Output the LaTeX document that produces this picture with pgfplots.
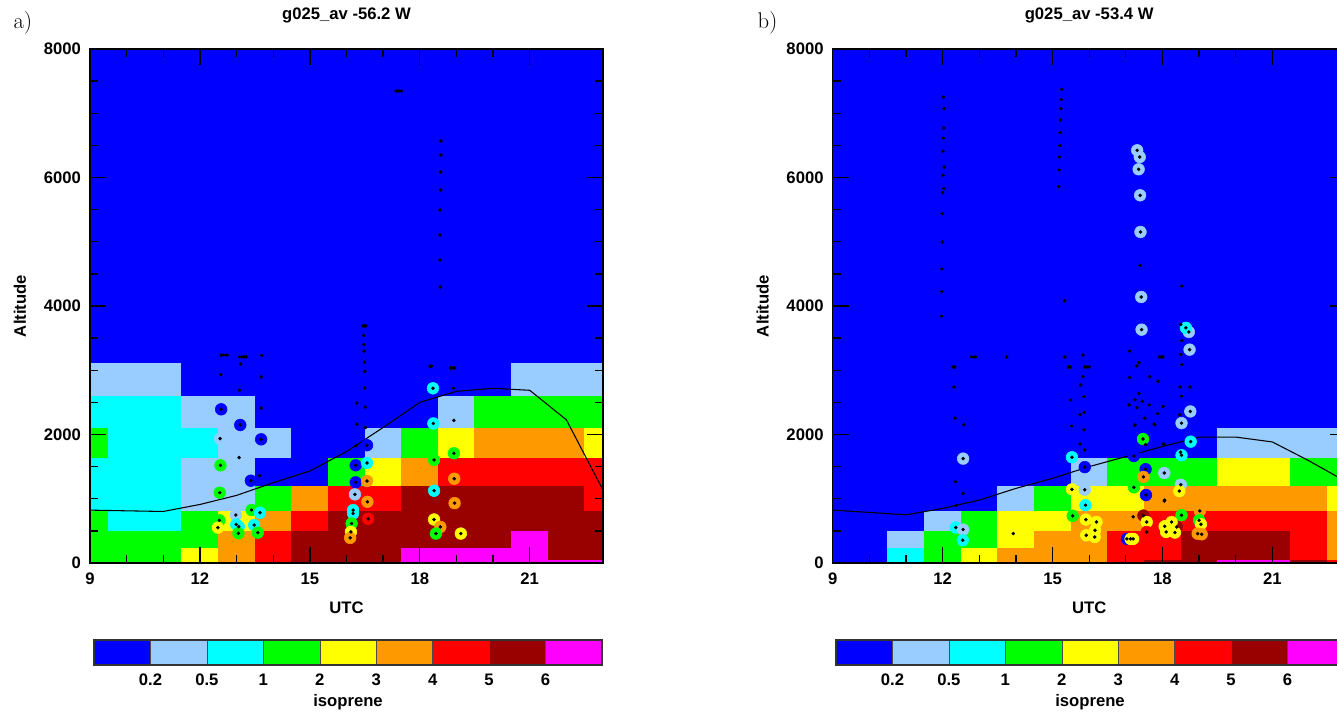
\documentclass[border=0pt]{standalone}
\usepackage{fontspec}
\usepackage{pgfplots}
\usepackage{pgfplotstable}
\pgfplotsset{compat=1.18}
\newfontfamily\hv{Liberation Sans}

\definecolor{c0}{RGB}{0,0,255}
\definecolor{c1}{RGB}{153,204,255}
\definecolor{c2}{RGB}{0,255,255}
\definecolor{c3}{RGB}{0,255,0}
\definecolor{c4}{RGB}{255,255,0}
\definecolor{c5}{RGB}{255,153,0}
\definecolor{c6}{RGB}{255,0,0}
\definecolor{c7}{RGB}{153,0,0}
\definecolor{c8}{RGB}{255,0,255}

\newcommand{\bfsz}{\hv\bfseries\fontsize{12.5}{14}\selectfont}

\pgfplotsset{
 colormap={iso}{rgb255=(0,0,255) rgb255=(153,204,255) rgb255=(0,255,255) rgb255=(0,255,0) rgb255=(255,255,0) rgb255=(255,153,0) rgb255=(255,0,0) rgb255=(153,0,0) rgb255=(255,0,255)},
 panel/.style={width=384.75pt, height=385.5pt, scale only axis,
  xmin=9, xmax=23, ymin=0, ymax=8000,
  xtick={9,12,...,21}, minor x tick num=2,
  ytick={0,2000,...,8000}, minor y tick num=3,
  point meta min=0, point meta max=8, colormap name=iso,
  tick align=inside, major tick length=12pt, minor tick length=6pt,
  every tick/.style={black, line width=1pt},
  axis line style={line width=1pt},
  ticklabel style={font=\bfsz},
  xticklabel style={yshift=-4pt},
  yticklabel style={xshift=-3.3pt},
  /pgf/number format/assume math mode=true,
  /pgf/number format/1000 sep={},
  xlabel={UTC}, ylabel={Altitude},
  label style={font=\bfsz},
  xlabel style={at={(axis description cs:0.5,-0.0875)}, anchor=center},
  ylabel style={at={(axis description cs:-0.1365,0.5)}, anchor=center},
  title style={font=\bfsz, at={(axis description cs:0.5,1.066)}, anchor=center, yshift=-6pt},
  axis on top},
 cbar/.style={width=381pt, height=18.75pt, scale only axis,
  xmin=0, xmax=9, ymin=0, ymax=1,
  xtick={1,...,8}, xticklabels={0.2,0.5,1,2,3,4,5,6},
  ytick=\empty, major tick length=0pt,
  axis line style={line width=0.8pt, draw=black!80},
  ticklabel style={font=\bfsz},
  xticklabel style={yshift=-3.3pt},
  /pgf/number format/assume math mode=true,
  xlabel={isoprene}, label style={font=\bfsz},
  xlabel style={at={(axis description cs:0.5,-1.5)}, anchor=center},
  axis on top},
 cell/.style={surf, shader=flat corner, mesh/rows=11, mesh/cols=16, point meta=explicit},
 circ/.style={scatter, only marks, mark=*, mark size=4.4pt, point meta=explicit,
  scatter/use mapped color={draw=mapped color, fill=mapped color}},
 dot/.style={only marks, mark=*, mark size=1.1pt, black},
}

\pgfplotstableread{
x y c
12.58 2392 0
13.10 2148 0
13.67 1925 0
12.55 1935 1
12.56 1520 3
13.39 1281 0
12.54 1095 3
13.41 825 3
13.64 783 2
12.53 664 3
12.49 550 4
12.98 747 1
12.99 600 2
13.06 565 2
13.05 462 3
13.48 591 2
13.58 472 3
16.25 1521 0
16.56 1557 2
16.25 1255 0
16.56 1276 5
16.23 1068 1
16.57 953 5
16.18 823 2
16.18 771 2
16.59 688 6
16.14 615 3
16.12 484 4
16.10 391 5
16.56 1833 0
18.36 2719 2
18.37 2172 2
18.39 1604 3
18.39 1125 2
18.39 677 4
18.56 562 5
18.44 458 3
18.93 1708 3
18.94 1312 5
18.95 932 5
19.12 458 4
}\circA

\pgfplotstableread{
x y
12.58 3235
12.64 3235
12.70 3235
12.75 3235
13.08 3208
13.14 3208
13.20 3208
13.26 3208
13.69 3229
13.11 3099
12.57 2932
13.67 2896
13.08 2688
13.67 2411
13.07 1641
13.63 1359
16.45 3690
16.49 3690
16.53 3690
16.47 3540
16.47 3400
16.48 3297
16.49 3125
16.50 2984
16.50 2724
16.28 2490
16.51 2427
16.28 2161
16.52 2109
16.26 1823
17.35 7346
17.40 7346
17.45 7346
17.50 7346
18.58 6568
18.58 6350
18.57 6086
18.57 5805
18.55 5494
18.55 5105
18.55 4716
18.56 4296
18.28 3062
18.32 3062
18.84 3036
18.90 3036
18.95 3036
18.92 2719
18.93 2219
}\dotsA

\pgfplotstableread{
x y c
12.56 1625 1
12.36 552 2
12.56 521 1
12.55 354 2
13.93 458 4
15.53 1646 2
15.88 1492 0
15.53 1146 4
15.88 1140 1
15.90 900 2
15.55 734 3
15.91 676 4
16.20 638 4
15.92 431 4
16.15 405 4
16.16 509 4
17.47 1930 3
17.22 1665 0
17.54 1460 0
17.48 1340 5
17.22 1178 3
17.55 1058 0
17.48 738 7
17.57 638 4
17.57 483 6
18.05 1401 1
18.50 1218 1
18.46 1120 4
18.77 1889 2
18.52 1677 2
18.76 2359 1
18.52 2177 1
18.52 744 3
18.39 561 7
18.06 571 4
18.25 638 4
18.10 483 4
18.34 474 4
19.02 810 5
19.00 665 3
19.05 603 4
18.96 457 5
19.07 447 5
17.03 375 0
17.13 375 4
17.20 375 4
17.31 6423 1
17.38 6319 1
17.35 6128 1
17.39 5723 1
17.40 5152 1
17.42 4140 1
17.43 3632 1
18.72 3596 1
18.74 3321 1
18.64 3660 2
}\circB

\pgfplotstableread{
x y
12.02 7253
12.04 7072
12.03 6771
12.02 6615
12.01 6408
12.04 6164
12.01 6034
12.03 5827
12.00 5765
11.99 5438
11.99 4996
11.98 4576
11.98 4224
11.97 3840
15.25 7373
15.24 7213
15.23 7072
15.22 6896
15.21 6699
15.20 6497
15.19 6319
15.18 6117
15.17 5858
17.91 3207
17.96 3207
18.01 3207
12.79 3207
12.85 3207
12.90 3207
13.75 3207
12.29 3051
12.33 3051
12.31 2740
15.43 3051
15.49 3051
15.88 3051
15.94 3051
16.00 3051
15.33 4082
18.53 4310
15.83 3237
15.34 3207
15.83 2900
15.77 2770
15.86 2590
15.50 2537
17.10 3300
17.30 3067
17.36 3118
17.10 2886
17.65 2900
17.88 2829
17.36 2637
17.09 2460
17.30 2418
17.64 2460
17.87 2325
18.50 3713
18.53 3464
18.50 3246
18.53 3090
18.48 2740
18.75 2740
18.52 2596
17.39 4633
12.34 2255
12.58 2151
12.35 1266
12.56 1083
12.36 896
15.75 2307
15.86 2344
15.52 2135
15.86 2073
15.75 1854
15.88 1760
17.25 2540
17.45 2515
18.02 2437
17.25 2151
17.52 2255
17.77 2161
18.47 2307
18.49 1724
18.06 979
17.20 719
18.02 1854
17.24 2143
17.79 2153
18.04 1843
17.54 1843
18.05 965
}\dotsB

\begin{document}
\begin{tikzpicture}[trim left=0pt, trim right=1002.75pt]
\path (0pt,0pt) rectangle (1002.75pt,533.25pt);

\begin{axis}[panel, at={(67.5pt,111pt)}, anchor=south west, title={g025\_av -56.2 W}]
\addplot[cell] coordinates {
(9,0)[3] (9.5,0)[3] (10.5,0)[3] (11.5,0)[4] (12.5,0)[5] (13.5,0)[6] (14.5,0)[7] (15.5,0)[7] (16.5,0)[7] (17.5,0)[8] (18.5,0)[8] (19.5,0)[8] (20.5,0)[8] (21.5,0)[8] (22.5,0)[8] (23,0)[0]
(9,65)[3] (9.5,65)[3] (10.5,65)[3] (11.5,65)[4] (12.5,65)[5] (13.5,65)[6] (14.5,65)[7] (15.5,65)[7] (16.5,65)[7] (17.5,65)[8] (18.5,65)[8] (19.5,65)[8] (20.5,65)[8] (21.5,65)[7] (22.5,65)[7] (23,65)[0]
(9,250)[3] (9.5,250)[3] (10.5,250)[3] (11.5,250)[3] (12.5,250)[5] (13.5,250)[6] (14.5,250)[7] (15.5,250)[7] (16.5,250)[7] (17.5,250)[7] (18.5,250)[7] (19.5,250)[7] (20.5,250)[8] (21.5,250)[7] (22.5,250)[7] (23,250)[0]
(9,510)[3] (9.5,510)[2] (10.5,510)[2] (11.5,510)[3] (12.5,510)[4] (13.5,510)[5] (14.5,510)[6] (15.5,510)[7] (16.5,510)[7] (17.5,510)[7] (18.5,510)[7] (19.5,510)[7] (20.5,510)[7] (21.5,510)[7] (22.5,510)[7] (23,510)[0]
(9,820)[2] (9.5,820)[2] (10.5,820)[2] (11.5,820)[1] (12.5,820)[1] (13.5,820)[3] (14.5,820)[5] (15.5,820)[6] (16.5,820)[6] (17.5,820)[7] (18.5,820)[7] (19.5,820)[7] (20.5,820)[7] (21.5,820)[7] (22.5,820)[6] (23,820)[0]
(9,1210)[2] (9.5,1210)[2] (10.5,1210)[2] (11.5,1210)[1] (12.5,1210)[1] (13.5,1210)[0] (14.5,1210)[0] (15.5,1210)[3] (16.5,1210)[4] (17.5,1210)[5] (18.5,1210)[6] (19.5,1210)[6] (20.5,1210)[6] (21.5,1210)[6] (22.5,1210)[6] (23,1210)[0]
(9,1650)[3] (9.5,1650)[2] (10.5,1650)[2] (11.5,1650)[2] (12.5,1650)[1] (13.5,1650)[1] (14.5,1650)[0] (15.5,1650)[0] (16.5,1650)[1] (17.5,1650)[3] (18.5,1650)[4] (19.5,1650)[5] (20.5,1650)[5] (21.5,1650)[5] (22.5,1650)[4] (23,1650)[0]
(9,2110)[2] (9.5,2110)[2] (10.5,2110)[2] (11.5,2110)[1] (12.5,2110)[1] (13.5,2110)[0] (14.5,2110)[0] (15.5,2110)[0] (16.5,2110)[0] (17.5,2110)[0] (18.5,2110)[1] (19.5,2110)[3] (20.5,2110)[3] (21.5,2110)[3] (22.5,2110)[3] (23,2110)[0]
(9,2610)[1] (9.5,2610)[1] (10.5,2610)[1] (11.5,2610)[0] (12.5,2610)[0] (13.5,2610)[0] (14.5,2610)[0] (15.5,2610)[0] (16.5,2610)[0] (17.5,2610)[0] (18.5,2610)[0] (19.5,2610)[0] (20.5,2610)[1] (21.5,2610)[1] (22.5,2610)[1] (23,2610)[0]
(9,3130)[0] (9.5,3130)[0] (10.5,3130)[0] (11.5,3130)[0] (12.5,3130)[0] (13.5,3130)[0] (14.5,3130)[0] (15.5,3130)[0] (16.5,3130)[0] (17.5,3130)[0] (18.5,3130)[0] (19.5,3130)[0] (20.5,3130)[0] (21.5,3130)[0] (22.5,3130)[0] (23,3130)[0]
(9,8000)[0] (9.5,8000)[0] (10.5,8000)[0] (11.5,8000)[0] (12.5,8000)[0] (13.5,8000)[0] (14.5,8000)[0] (15.5,8000)[0] (16.5,8000)[0] (17.5,8000)[0] (18.5,8000)[0] (19.5,8000)[0] (20.5,8000)[0] (21.5,8000)[0] (22.5,8000)[0] (23,8000)[0]
};
\addplot[black, line width=0.8pt, mark=none] coordinates {
(9,823) (10,812) (11,802) (12,911) (13,1052) (14,1250) (15,1432) (16,1734) (17,2109) (18,2500) (19,2672) (20,2719) (21,2688) (22,2229) (23,1135)};
\addplot[circ] table[x=x, y=y, meta=c] {\circA};
\addplot[dot] table[x=x, y=y] {\circA};
\addplot[dot] table[x=x, y=y] {\dotsA};
\end{axis}

\begin{axis}[cbar, at={(70.5pt,34.5pt)}, anchor=south west]
\addplot[ybar interval, fill=c0, draw=black!70] coordinates {(0,1) (1,1)};
\addplot[ybar interval, fill=c1, draw=black!70] coordinates {(1,1) (2,1)};
\addplot[ybar interval, fill=c2, draw=black!70] coordinates {(2,1) (3,1)};
\addplot[ybar interval, fill=c3, draw=black!70] coordinates {(3,1) (4,1)};
\addplot[ybar interval, fill=c4, draw=black!70] coordinates {(4,1) (5,1)};
\addplot[ybar interval, fill=c5, draw=black!70] coordinates {(5,1) (6,1)};
\addplot[ybar interval, fill=c6, draw=black!70] coordinates {(6,1) (7,1)};
\addplot[ybar interval, fill=c7, draw=black!70] coordinates {(7,1) (8,1)};
\addplot[ybar interval, fill=c8, draw=black!70] coordinates {(8,1) (9,1)};
\end{axis}

\begin{axis}[panel, at={(624.5pt,111pt)}, anchor=south west, title={g025\_av -53.4 W}]
\addplot[cell] coordinates {
(9,0)[0] (9.5,0)[0] (10.5,0)[2] (11.5,0)[3] (12.5,0)[4] (13.5,0)[5] (14.5,0)[5] (15.5,0)[5] (16.5,0)[6] (17.5,0)[7] (18.5,0)[7] (19.5,0)[8] (20.5,0)[8] (21.5,0)[7] (22.5,0)[6] (23,0)[0]
(9,65)[0] (9.5,65)[0] (10.5,65)[2] (11.5,65)[3] (12.5,65)[4] (13.5,65)[5] (14.5,65)[5] (15.5,65)[5] (16.5,65)[6] (17.5,65)[6] (18.5,65)[7] (19.5,65)[7] (20.5,65)[7] (21.5,65)[6] (22.5,65)[5] (23,65)[0]
(9,250)[0] (9.5,250)[0] (10.5,250)[1] (11.5,250)[3] (12.5,250)[3] (13.5,250)[4] (14.5,250)[5] (15.5,250)[5] (16.5,250)[6] (17.5,250)[6] (18.5,250)[7] (19.5,250)[7] (20.5,250)[7] (21.5,250)[6] (22.5,250)[5] (23,250)[0]
(9,510)[0] (9.5,510)[0] (10.5,510)[0] (11.5,510)[1] (12.5,510)[3] (13.5,510)[4] (14.5,510)[4] (15.5,510)[5] (16.5,510)[5] (17.5,510)[6] (18.5,510)[6] (19.5,510)[6] (20.5,510)[6] (21.5,510)[6] (22.5,510)[5] (23,510)[0]
(9,820)[0] (9.5,820)[0] (10.5,820)[0] (11.5,820)[0] (12.5,820)[0] (13.5,820)[1] (14.5,820)[3] (15.5,820)[4] (16.5,820)[4] (17.5,820)[5] (18.5,820)[5] (19.5,820)[5] (20.5,820)[5] (21.5,820)[5] (22.5,820)[4] (23,820)[0]
(9,1210)[0] (9.5,1210)[0] (10.5,1210)[0] (11.5,1210)[0] (12.5,1210)[0] (13.5,1210)[0] (14.5,1210)[0] (15.5,1210)[1] (16.5,1210)[3] (17.5,1210)[3] (18.5,1210)[3] (19.5,1210)[4] (20.5,1210)[4] (21.5,1210)[3] (22.5,1210)[3] (23,1210)[0]
(9,1650)[0] (9.5,1650)[0] (10.5,1650)[0] (11.5,1650)[0] (12.5,1650)[0] (13.5,1650)[0] (14.5,1650)[0] (15.5,1650)[0] (16.5,1650)[0] (17.5,1650)[0] (18.5,1650)[0] (19.5,1650)[1] (20.5,1650)[1] (21.5,1650)[1] (22.5,1650)[1] (23,1650)[0]
(9,2110)[0] (9.5,2110)[0] (10.5,2110)[0] (11.5,2110)[0] (12.5,2110)[0] (13.5,2110)[0] (14.5,2110)[0] (15.5,2110)[0] (16.5,2110)[0] (17.5,2110)[0] (18.5,2110)[0] (19.5,2110)[0] (20.5,2110)[0] (21.5,2110)[0] (22.5,2110)[0] (23,2110)[0]
(9,2610)[0] (9.5,2610)[0] (10.5,2610)[0] (11.5,2610)[0] (12.5,2610)[0] (13.5,2610)[0] (14.5,2610)[0] (15.5,2610)[0] (16.5,2610)[0] (17.5,2610)[0] (18.5,2610)[0] (19.5,2610)[0] (20.5,2610)[0] (21.5,2610)[0] (22.5,2610)[0] (23,2610)[0]
(9,3130)[0] (9.5,3130)[0] (10.5,3130)[0] (11.5,3130)[0] (12.5,3130)[0] (13.5,3130)[0] (14.5,3130)[0] (15.5,3130)[0] (16.5,3130)[0] (17.5,3130)[0] (18.5,3130)[0] (19.5,3130)[0] (20.5,3130)[0] (21.5,3130)[0] (22.5,3130)[0] (23,3130)[0]
(9,8000)[0] (9.5,8000)[0] (10.5,8000)[0] (11.5,8000)[0] (12.5,8000)[0] (13.5,8000)[0] (14.5,8000)[0] (15.5,8000)[0] (16.5,8000)[0] (17.5,8000)[0] (18.5,8000)[0] (19.5,8000)[0] (20.5,8000)[0] (21.5,8000)[0] (22.5,8000)[0] (23,8000)[0]
};
\addplot[black, line width=0.8pt, mark=none] coordinates {
(9,823) (10,787) (11,750) (12,849) (13,979) (14,1161) (15,1318) (16,1500) (17,1656) (18,1813) (19,1958) (20,1960) (21,1884) (22,1590) (23,1270)};
\addplot[circ] table[x=x, y=y, meta=c] {\circB};
\addplot[dot] table[x=x, y=y] {\circB};
\addplot[dot] table[x=x, y=y] {\dotsB};
\end{axis}

\begin{axis}[cbar, at={(627pt,34.5pt)}, anchor=south west]
\addplot[ybar interval, fill=c0, draw=black!70] coordinates {(0,1) (1,1)};
\addplot[ybar interval, fill=c1, draw=black!70] coordinates {(1,1) (2,1)};
\addplot[ybar interval, fill=c2, draw=black!70] coordinates {(2,1) (3,1)};
\addplot[ybar interval, fill=c3, draw=black!70] coordinates {(3,1) (4,1)};
\addplot[ybar interval, fill=c4, draw=black!70] coordinates {(4,1) (5,1)};
\addplot[ybar interval, fill=c5, draw=black!70] coordinates {(5,1) (6,1)};
\addplot[ybar interval, fill=c6, draw=black!70] coordinates {(6,1) (7,1)};
\addplot[ybar interval, fill=c7, draw=black!70] coordinates {(7,1) (8,1)};
\addplot[ybar interval, fill=c8, draw=black!70] coordinates {(8,1) (9,1)};
\end{axis}

\node[font=\fontsize{17}{19}\selectfont, anchor=base west] at (6.75pt,511.5pt) {a)};
\node[font=\fontsize{17}{19}\selectfont, anchor=base west] at (564.75pt,511.5pt) {b)};
\end{tikzpicture}
\end{document}
